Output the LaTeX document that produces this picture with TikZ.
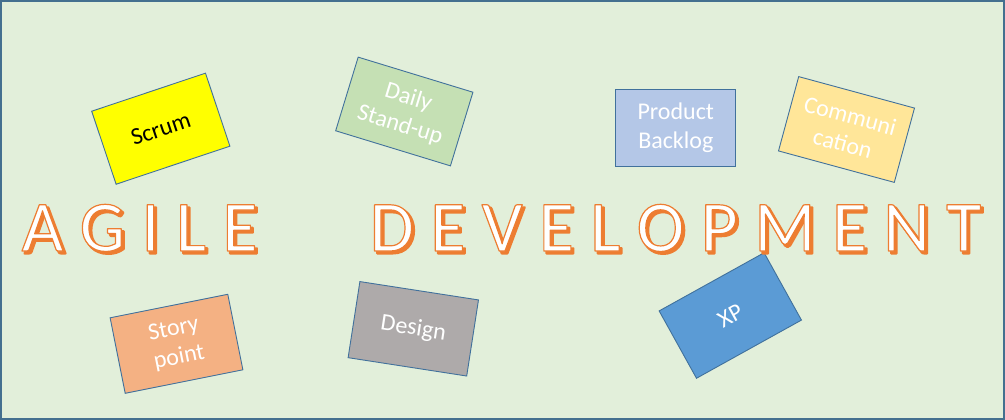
\documentclass[tikz,border=0pt]{standalone}
\usepackage{fontspec}
\setmainfont{Carlito}
\definecolor{bgfill}{HTML}{E2EFDA}
\definecolor{framecol}{HTML}{44708F}
\definecolor{cardline}{HTML}{41719C}
\definecolor{scrumfill}{HTML}{FFFF00}
\definecolor{dailyfill}{HTML}{C5E0B4}
\definecolor{backlogfill}{HTML}{B4C7E7}
\definecolor{commfill}{HTML}{FFE699}
\definecolor{storyfill}{HTML}{F4B183}
\definecolor{designfill}{HTML}{AEAAAA}
\definecolor{xpfill}{HTML}{5B9BD5}
\definecolor{agileorange}{HTML}{ED7D31}
\newcommand\strokedtext[3]{\special{pdf:literal direct #1 RG #2 w 1 j 2 Tr}#3\special{pdf:literal direct 0 Tr}}
\newcommand\bigtext{\fontsize{72}{72}\selectfont}
\tikzset{
  card/.style={draw=cardline, line width=0.9pt, minimum width=120pt, minimum height=77pt,
    inner sep=0pt, align=center, font=\fontsize{24}{28.8}\selectfont, text=white},
  bigword/.style={anchor=base west, inner sep=0pt, font=\bigtext, text=white},
  bigshadow/.style={anchor=base west, inner sep=0pt, font=\bigtext, text=agileorange}
}
\begin{document}
\begin{tikzpicture}[x=1pt,y=-1pt]
\useasboundingbox (0,0) rectangle (1005,420);
\fill[bgfill] (0,0) rectangle (1005,420);
\draw[framecol, line width=2pt] (1,1) rectangle (1004,419);

\node[card, fill=scrumfill, text=black, rotate=18.5] (scrum) at (160.8,128.7) {Scrum};
\node[card, fill=dailyfill, rotate=-17] (daily) at (404.3,111.5) {Daily\\Stand-up};
\node[card, fill=backlogfill] (backlog) at (675.8,128) {Product\\Backlog};
\node[card, fill=commfill, rotate=-15.2] (comm) at (846.5,129.5) {Communi\\cation};
\node[card, fill=storyfill, rotate=11.3] (story) at (176.5,343.8) {Story\\point};
\node[card, fill=designfill, rotate=-8.8] (design) at (413.3,328.8) {Design};
\node[card, fill=xpfill, rotate=29] (xp) at (730.3,315.5) {XP};

\node[bigshadow] (agileshadow) at (24,253.5) {\strokedtext{0.929 0.490 0.192}{2}{A G I L E}};
\node[bigshadow] (devshadow) at (372,253.5) {\strokedtext{0.929 0.490 0.192}{2}{D E V E L O P M E N T}};
\node[bigword] (agile) at (21.5,251) {\strokedtext{0.929 0.490 0.192}{1.2}{A G I L E}};
\node[bigword] (dev) at (369.5,251) {\strokedtext{0.929 0.490 0.192}{1.2}{D E V E L O P M E N T}};
\end{tikzpicture}
\end{document}
